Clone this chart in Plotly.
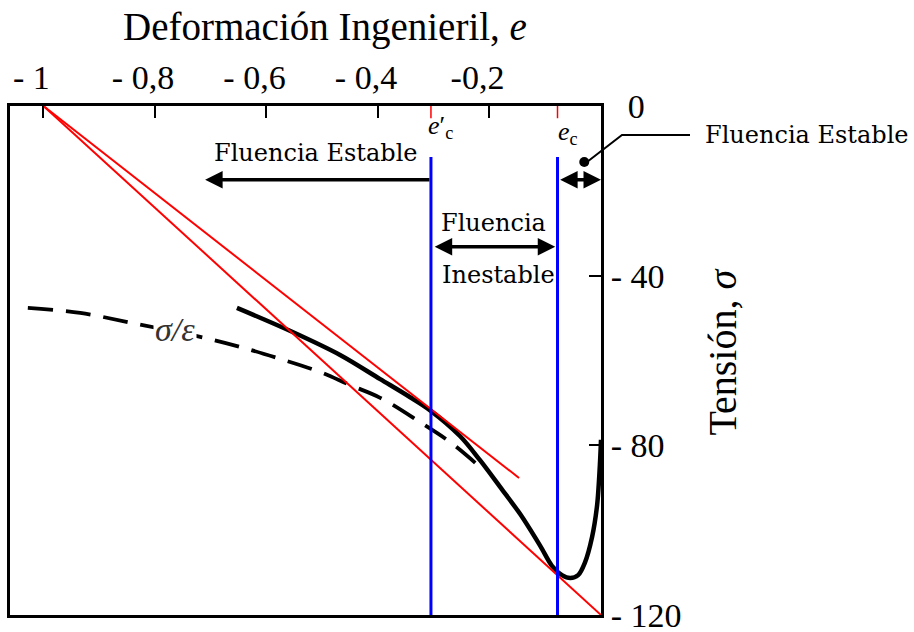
import plotly.graph_objects as go

# Engineering strain (compression) and engineering stress along the flow curve
strain_curve = [-0.653, -0.558, -0.468, -0.396, -0.343, -0.307, -0.253, -0.217,
                -0.181, -0.145, -0.109, -0.088, -0.070, -0.055, -0.041, -0.029,
                -0.016, -0.007, -0.002, 0.0]
stress_curve = [-47.6, -53.0, -58.7, -64.4, -68.6, -71.7, -77.8, -83.5,
                -89.8, -96.2, -103.7, -108.4, -110.6, -111.3, -110.6, -107.7,
                -101.6, -94.1, -84.6, -78.7]

# sigma / epsilon curve (dashed)
strain_ratio = [-1.028, -0.934, -0.839, -0.710, -0.647, -0.581, -0.504,
                -0.450, -0.396, -0.325, -0.271, -0.217]
ratio_curve = [-47.6, -48.8, -51.2, -54.7, -56.8, -59.4, -62.7,
               -65.8, -68.8, -74.5, -79.2, -85.1]

# Considere construction: tangents drawn from e = -1
origin_strain = -1.0
upper_tangent_x = [origin_strain, -0.147]
upper_tangent_y = [0.0, -87.7]
lower_tangent_x = [origin_strain, 0.0]
lower_tangent_y = [0.0, -120.0]

# critical strains
e_c_prime = -0.305
e_c = -0.078
marker_top = -12.0

x_ticks = [-1.0, -0.8, -0.6, -0.4, -0.2]
x_ticktext = ["- 1", "- 0,8", "- 0,6", "- 0,4", "-0,2"]
y_ticks = [0, -40, -80, -120]
y_ticktext = ["\u00a0\u00a00", "- 40", "- 80", "- 120"]

SERIF = "Liberation Serif"
BOOK = "DejaVu Serif"

fig = go.Figure()

fig.add_trace(go.Scatter(
    x=strain_ratio, y=ratio_curve, mode="lines",
    line=dict(color="black", width=3.8, dash="25px,13px", shape="spline"),
    hoverinfo="skip"))
fig.add_trace(go.Scatter(
    x=strain_curve, y=stress_curve, mode="lines",
    line=dict(color="black", width=4.5, shape="spline", smoothing=0.9),
    hoverinfo="skip"))
fig.add_trace(go.Scatter(
    x=upper_tangent_x, y=upper_tangent_y, mode="lines",
    line=dict(color="#ff0000", width=2), hoverinfo="skip"))
fig.add_trace(go.Scatter(
    x=lower_tangent_x, y=lower_tangent_y, mode="lines",
    line=dict(color="#ff0000", width=2), hoverinfo="skip"))
for e in (e_c_prime, e_c):
    fig.add_trace(go.Scatter(
        x=[e, e], y=[marker_top, -120], mode="lines",
        line=dict(color="#0000ff", width=3), hoverinfo="skip"))

# callout dot
fig.add_trace(go.Scatter(
    x=[-0.030], y=[-13.2], mode="markers",
    marker=dict(color="black", size=10), hoverinfo="skip"))

shapes = []
# red tick marks for the critical strains
for e in (e_c_prime, e_c):
    shapes.append(dict(type="line", xref="x", yref="y domain",
                       x0=e, x1=e, y0=1, y1=0.976,
                       line=dict(color="#ff0000", width=1.5)))
# leader line of the callout
shapes.append(dict(type="path", xref="x domain", yref="y domain",
                   path="M 0.9763,0.890 L 1.0355,0.943 L 1.1506,0.943",
                   line=dict(color="black", width=2)))

arrow = dict(text="", showarrow=True, arrowhead=2, arrowsize=1,
             arrowwidth=3.5, arrowcolor="black", axref="x", ayref="y",
             standoff=0, startstandoff=0)

annotations = [
    # Fluencia Estable (left)
    dict(arrow, x=-0.710, y=-17.4, ax=e_c_prime, ay=-17.4),
    # Fluencia Inestable
    dict(arrow, x=e_c - 0.004, y=-33.2, ax=e_c_prime + 0.004, ay=-33.2,
         arrowside="end+start"),
    # Fluencia Estable (right)
    dict(arrow, x=0.0, y=-17.4, ax=e_c + 0.002, ay=-17.4,
         arrowside="end+start"),
]

text_items = [
    dict(x=-0.511, y=-11.1, text="Fluencia Estable", font=dict(family=BOOK, size=24)),
    dict(x=-0.192, y=-27.6, text="Fluencia", font=dict(family=BOOK, size=24)),
    dict(x=-0.183, y=-39.8, text="Inestable", font=dict(family=BOOK, size=24)),
    dict(x=-0.288, y=-5.0, text="<i>e</i>\u2032<sub>c</sub>", font=dict(family=SERIF, size=26)),
    dict(x=-0.059, y=-6.4, text="<i>e</i><sub>c</sub>", font=dict(family=SERIF, size=26)),
]
for t in text_items:
    annotations.append(dict(t, xref="x", yref="y", showarrow=False))

annotations.append(dict(x=-0.764, y=-52.8, xref="x", yref="y", showarrow=False,
                        text="<i>σ/ε</i>", bgcolor="white",
                        font=dict(family=SERIF, size=34, color="#333333")))
annotations.append(dict(x=1.1726, y=0.943, xref="x domain", yref="y domain",
                        xanchor="left", yanchor="middle", showarrow=False,
                        text="Fluencia Estable",
                        font=dict(family=BOOK, size=24)))
annotations.append(dict(x=0.533, y=1.155, xref="x domain", yref="y domain",
                        xanchor="center", yanchor="middle",
                        showarrow=False, text="Deformación Ingenieril, <i>e</i>",
                        font=dict(family=SERIF, size=39)))
annotations.append(dict(x=1.206, y=0.517, xref="x domain", yref="y domain",
                        xanchor="center", yanchor="middle",
                        showarrow=False, textangle=-90, text="Tensión, <i>σ</i>",
                        font=dict(family=SERIF, size=40)))

fig.update_layout(
    width=914, height=632,
    margin=dict(l=10, r=313, t=106, b=17, autoexpand=False),
    paper_bgcolor="white", plot_bgcolor="white",
    showlegend=False,
    shapes=shapes, annotations=annotations,
    font=dict(family=SERIF, color="black"),
    xaxis=dict(range=[-1.06, 0], side="top", showgrid=False, zeroline=False,
               showline=True, linecolor="black", linewidth=3, mirror=True,
               ticks="inside", ticklen=12, tickwidth=1.5, tickcolor="black",
               tickvals=x_ticks, ticktext=x_ticktext, ticklabelshift=-12,
               ticklabeloverflow="allow", automargin=False,
               tickfont=dict(family=SERIF, size=34, color="black")),
    yaxis=dict(range=[-120, 0], side="right", showgrid=False, zeroline=False,
               showline=True, linecolor="black", linewidth=3, mirror=True,
               ticks="inside", ticklen=12, tickwidth=1.5, tickcolor="black",
               tickvals=y_ticks, ticktext=y_ticktext,
               ticklabeloverflow="allow", automargin=False,
               tickfont=dict(family=SERIF, size=34, color="black")),
)

fig.write_html("out.html")
